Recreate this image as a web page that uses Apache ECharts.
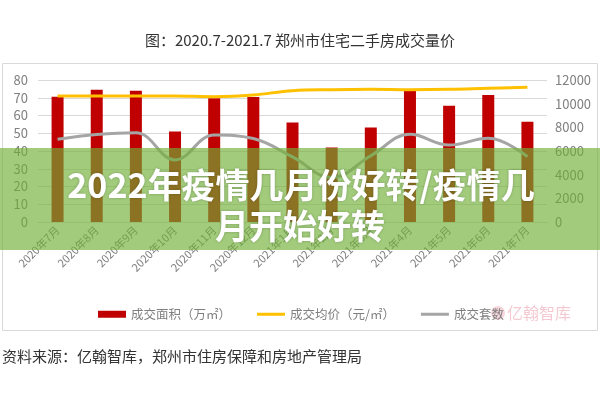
<!DOCTYPE html>
<html>
<head>
<meta charset="utf-8">
<style>
  html, body { margin: 0; padding: 0; background: #fff; }
  #chart { width: 600px; height: 400px; }
</style>
<script src="https://cdn.jsdelivr.net/npm/echarts@6.0.0/dist/echarts.min.js"></script>
</head>
<body>
<div id="chart"></div>
<script>
const months = [
  "2020年7月", "2020年8月", "2020年9月", "2020年10月", "2020年11月", "2020年12月",
  "2021年1月", "2021年2月", "2021年3月", "2021年4月", "2021年5月", "2021年6月", "2021年7月",
];
// 成交面积（万㎡）, left axis
const areaValues = [70.5, 74.5, 74, 51, 69.7, 70.4, 56, 42, 53.3, 73.8, 65.5, 71.5, 56.5];
// 成交均价（元/㎡）, right axis
const priceValues = [10650, 10650, 10650, 10650, 10590, 10730, 11100, 11180, 11210, 11180, 11210, 11300, 11380];
// 成交套数, right axis
const countValues = [7000, 7400, 7550, 5250, 7350, 7050, 5500, 3750, 5600, 7420, 6500, 7080, 5520];

const seriesNames = ["成交面积（万㎡）", "成交均价（元/㎡）", "成交套数"];
const titleText = "图：2020.7-2021.7 郑州市住宅二手房成交量价";
const sourceText = "资料来源：亿翰智库，郑州市住房保障和房地产管理局";
const bannerLines = ["2022年疫情几月份好转/疫情几", "月开始好转"];

const FONT = '"Noto Sans CJK SC", "Noto Sans", sans-serif';
const LINE_ICON = "path://M0,0h28v3h-28z";
const chart = echarts.init(document.getElementById("chart"), null, { renderer: "canvas" });

chart.setOption({
  animation: false,
  textStyle: { fontFamily: FONT },
  grid: { left: 38, right: 53, top: 80, bottom: 178 },
  legend: {
    left: 93,
    top: 303,
    itemWidth: 28,
    itemHeight: 7,
    itemGap: 26,
    textStyle: { color: "#7f7f7f", fontSize: 12.5 },
    data: [
      { name: seriesNames[0], icon: "rect" },
      { name: seriesNames[1], icon: LINE_ICON },
      { name: seriesNames[2], icon: LINE_ICON },
    ],
  },
  xAxis: {
    type: "category",
    data: months,
    axisLine: { lineStyle: { color: "#d9d9d9" } },
    axisTick: { show: false },
    axisLabel: { color: "#7f7f7f", fontSize: 11, rotate: 45, margin: 6, interval: 0 },
  },
  yAxis: [
    {
      type: "value",
      min: 0,
      max: 80,
      interval: 10,
      axisLine: { show: false },
      axisTick: { show: false },
      axisLabel: { color: "#7f7f7f", fontSize: 13, margin: 10 },
      splitLine: { lineStyle: { color: "#d9d9d9" } },
    },
    {
      type: "value",
      position: "right",
      min: 0,
      max: 12000,
      interval: 2000,
      axisLine: { show: false },
      axisTick: { show: false },
      axisLabel: { color: "#7f7f7f", fontSize: 13, margin: 8, formatter: (v) => String(v) },
      splitLine: { show: false },
    },
  ],
  series: [
    {
      name: seriesNames[0],
      type: "bar",
      data: areaValues,
      barWidth: 12,
      itemStyle: { color: "#c00000" },
    },
    {
      name: seriesNames[1],
      type: "line",
      yAxisIndex: 1,
      data: priceValues,
      smooth: 0.4,
      symbol: "none",
      lineStyle: { color: "#ffc000", width: 3 },
      itemStyle: { color: "#ffc000" },
    },
    {
      name: seriesNames[2],
      type: "line",
      yAxisIndex: 1,
      data: countValues,
      smooth: 0.4,
      symbol: "none",
      lineStyle: { color: "#a5a5a5", width: 3 },
      itemStyle: { color: "#a5a5a5" },
    },
  ],
  graphic: [
    {
      type: "text",
      x: 300,
      y: 40,
      style: { text: titleText, fill: "#333", font: "15px " + FONT, align: "center", verticalAlign: "middle" },
    },
    {
      type: "rect",
      shape: { x: 2.5, y: 63.5, width: 595, height: 267 },
      style: { fill: "none", stroke: "#d9d9d9", lineWidth: 1 },
      z: -1,
    },
    {
      type: "circle",
      shape: { cx: 498, cy: 313, r: 7 },
      style: { fill: "rgba(228,120,140,0.3)" },
    },
    {
      type: "text",
      x: 507,
      y: 313,
      style: { text: "亿翰智库", fill: "rgba(228,120,140,0.4)", font: "16px " + FONT, verticalAlign: "middle" },
    },
    {
      type: "text",
      x: 2,
      y: 356,
      style: { text: sourceText, fill: "#333", font: "15px " + FONT, verticalAlign: "middle" },
    },
    {
      type: "rect",
      shape: { x: 0, y: 148, width: 600, height: 102 },
      style: { fill: "rgba(112,177,54,0.65)" },
      z: 100,
    },
    {
      type: "text",
      x: 301,
      y: 185,
      z: 101,
      style: {
        text: bannerLines[0], fill: "#fff", font: "bold 34px " + FONT,
        align: "center", verticalAlign: "middle",
        textShadowColor: "rgba(0,0,0,0.25)", textShadowBlur: 3,
      },
    },
    {
      type: "text",
      x: 300,
      y: 226,
      z: 101,
      style: {
        text: bannerLines[1], fill: "#fff", font: "bold 34px " + FONT,
        align: "center", verticalAlign: "middle",
        textShadowColor: "rgba(0,0,0,0.25)", textShadowBlur: 3,
      },
    },
  ],
});
</script>
</body>
</html>
